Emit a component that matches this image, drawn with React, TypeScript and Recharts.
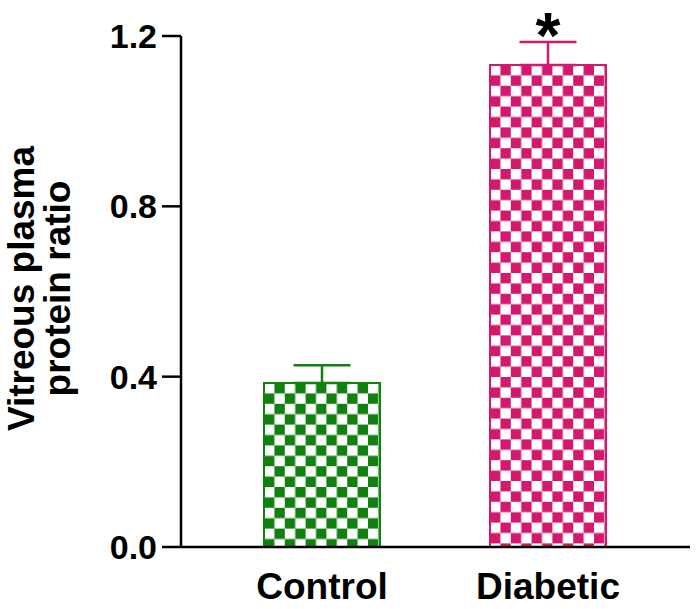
import React from 'react';
import { BarChart, Bar, XAxis, YAxis, Cell, ErrorBar, ReferenceDot } from 'recharts';

const categories = ['Control', 'Diabetic'];
const ratioValues = [0.385, 1.132];
const semValues = [0.042, 0.054];
const significance = ['', '*'];
const yTicks = [0, 0.4, 0.8, 1.2];
const barColors = ['#10800f', '#d3196e'];

const data = categories.map((name, i) => ({
  name,
  value: ratioValues[i],
  errControl: i === 0 ? [0, semValues[i]] : null,
  errDiabetic: i === 1 ? [0, semValues[i]] : null,
}));

const FONT = '"Liberation Sans", Arial, Helvetica, sans-serif';
const SQ = 10.4;

const XTick = (props: any) => {
  const { x, y, payload } = props;
  return (
    <text x={x} y={y + 52} textAnchor="middle" fontFamily={FONT} fontWeight="bold" fontSize={37} fill="#000">
      {payload.value}
    </text>
  );
};

const YTitle = (props: any) => {
  const vb = props.viewBox || {};
  const cy = (vb.y || 0) + (vb.height || 0) / 2 - 3;
  const x1 = 34;
  const x2 = 70;
  return (
    <g>
      <text x={x1} y={cy} transform={`rotate(-90, ${x1}, ${cy})`} textAnchor="middle" fontFamily={FONT} fontWeight="bold" fontSize={37} fill="#000">
        Vitreous plasma
      </text>
      <text x={x2} y={cy} transform={`rotate(-90, ${x2}, ${cy})`} textAnchor="middle" fontFamily={FONT} fontWeight="bold" fontSize={37} fill="#000">
        protein ratio
      </text>
    </g>
  );
};

const Star = (props: any) => {
  const { cx, cy } = props;
  return (
    <text x={cx} y={cy + 16} textAnchor="middle" fontFamily={FONT} fontWeight="bold" fontSize={64} fill="#000">
      {significance[1]}
    </text>
  );
};

export default function App() {
  return (
    <div style={{ position: 'absolute', left: 0, top: 0, background: '#fff' }}>
      <BarChart width={697} height={609} data={data} margin={{ top: 36, right: 7, bottom: 0, left: 0 }} barSize={116}>
        <defs>
          <pattern id="checkGreen" patternUnits="userSpaceOnUse" width={SQ * 2} height={SQ * 2} x={264} y={383}>
            <rect width={SQ * 2} height={SQ * 2} fill="#fff" />
            <rect x={SQ} y={0} width={SQ} height={SQ} fill={barColors[0]} />
            <rect x={0} y={SQ} width={SQ} height={SQ} fill={barColors[0]} />
          </pattern>
          <pattern id="checkPink" patternUnits="userSpaceOnUse" width={SQ * 2} height={SQ * 2} x={490} y={65}>
            <rect width={SQ * 2} height={SQ * 2} fill="#fff" />
            <rect x={SQ} y={0} width={SQ} height={SQ} fill={barColors[1]} />
            <rect x={0} y={SQ} width={SQ} height={SQ} fill={barColors[1]} />
          </pattern>
        </defs>
        <XAxis
          dataKey="name"
          padding={{ left: 28, right: 29 }}
          tickLine={false}
          tickSize={0}
          tickMargin={0}
          axisLine={{ stroke: '#000', strokeWidth: 2.5 }}
          tick={<XTick />}
          height={62}
          interval={0}
        />
        <YAxis
          domain={[0, 1.2]}
          ticks={yTicks}
          width={181}
          tickFormatter={(v: number) => v.toFixed(1)}
          tickSize={19}
          tickMargin={5}
          axisLine={{ stroke: '#000', strokeWidth: 2.5 }}
          tickLine={{ stroke: '#000', strokeWidth: 2.5 }}
          tick={{ fill: '#000', fontSize: 34, fontWeight: 'bold', fontFamily: FONT }}
          label={<YTitle />}
          allowDataOverflow
        />
        <Bar dataKey="value" isAnimationActive={false} strokeWidth={2}>
          <Cell fill="url(#checkGreen)" stroke={barColors[0]} />
          <Cell fill="url(#checkPink)" stroke={barColors[1]} />
          <ErrorBar dataKey="errControl" width={28.5} stroke={barColors[0]} strokeWidth={2.5} isAnimationActive={false} />
          <ErrorBar dataKey="errDiabetic" width={28.5} stroke={barColors[1]} strokeWidth={2.5} isAnimationActive={false} />
        </Bar>
        <ReferenceDot x={categories[1]} y={ratioValues[1] + semValues[1]} r={0} shape={<Star />} ifOverflow="visible" />
      </BarChart>
    </div>
  );
}
